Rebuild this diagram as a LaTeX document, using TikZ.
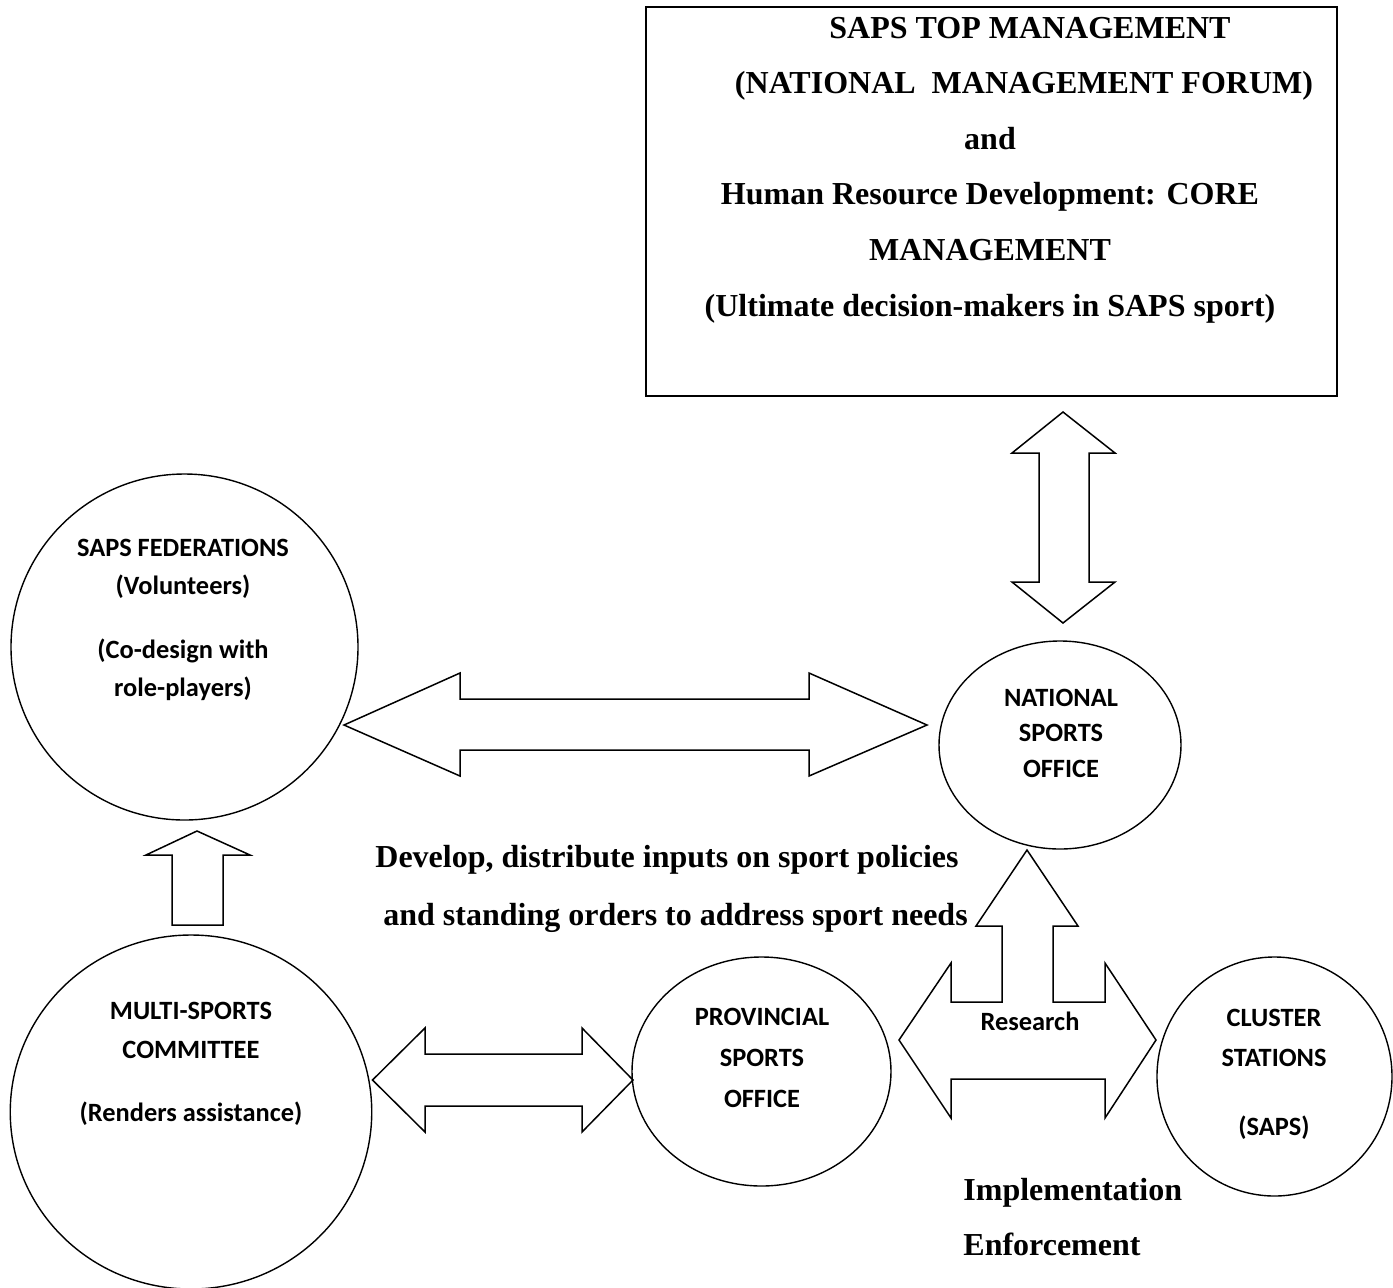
\documentclass[tikz,border=0pt]{standalone}
\usepackage{fontspec}
\setmainfont{Liberation Serif}
\newfontfamily\officefont{Carlito}
\usetikzlibrary{shapes.geometric}
\usetikzlibrary{positioning}

\tikzset{
  office/.style={draw, ellipse, line width=0.7pt, inner sep=0pt},
  officetext/.style={font=\officefont\bfseries\fontsize{13.2}{19.5}\selectfont, align=center, inner sep=0pt},
  bigtext/.style={font=\bfseries\fontsize{16}{27.8}\selectfont, inner sep=0pt},
  blockarrow/.style={draw, line width=0.75pt, line join=miter}
}

\begin{document}
\begin{tikzpicture}[x=0.5pt, y=-0.5pt]
            \useasboundingbox (0,0) rectangle (1393,1287);
            % Top management box
            \node[draw, line width=1pt, minimum width=345.5pt, minimum height=194.5pt, inner sep=0pt] (top) at (991.5,201.5) {};
            \node[bigtext, align=center] (toptext) at (990,170) {\hspace*{40pt}SAPS TOP MANAGEMENT\\\hspace*{34pt}(NATIONAL\ \ MANAGEMENT FORUM)\\and\hspace*{7pt}\\Human Resource Development: CORE\\MANAGEMENT\\(Ultimate decision-makers in SAPS sport)};

            % Offices and committees
            \node[office, minimum width=173.5pt, minimum height=173pt] (fed) at (184.5,647) {};
            \node[officetext, font=\officefont\bfseries\fontsize{13.2}{19}\selectfont] (fedtext) at (183,620) {SAPS FEDERATIONS\\(Volunteers)\\[13pt](Co-design with\\role-players)};
            \node[office, minimum width=180.75pt, minimum height=177pt] (multi) at (191,1112) {};
            \node[officetext] (multitext) at (191,1064) {MULTI-SPORTS\\COMMITTEE\\[12pt](Renders assistance)};
            \node[office, minimum width=121pt, minimum height=104pt] (nat) at (1060,745) {};
            \node[officetext, font=\officefont\bfseries\fontsize{13.2}{17.75}\selectfont] (nattext) at (1061,733) {NATIONAL\\SPORTS\\OFFICE};
            \node[office, minimum width=129.5pt, minimum height=114.5pt] (prov) at (761.5,1071.5) {};
            \node[officetext, font=\officefont\bfseries\fontsize{13.2}{20.5}\selectfont] (provtext) at (762,1058) {PROVINCIAL\\SPORTS\\OFFICE};
            \node[office, minimum width=117.5pt, minimum height=119.5pt] (clus) at (1274.5,1076.5) {};
            \node[officetext, font=\officefont\bfseries\fontsize{13.2}{20}\selectfont] (clustext) at (1274,1074) {CLUSTER\\STATIONS\\[14.5pt](SAPS)};

            % Block arrows
            \draw[blockarrow] (1063,412) -- (1115,453) -- (1089,453) -- (1089,582) -- (1115,582) -- (1063,623)
                -- (1012,582) -- (1039,582) -- (1039,453) -- (1012,453) -- cycle;
            \draw[blockarrow] (344,725) -- (460,673) -- (460,699) -- (809,699) -- (809,673) -- (927,725)
                -- (809,776) -- (809,750) -- (460,750) -- (460,776) -- cycle;
            \draw[blockarrow] (197,831) -- (250,855) -- (223,855) -- (223,925) -- (172,925) -- (172,855) -- (146,855) -- cycle;
            \draw[blockarrow] (372.5,1080) -- (425,1028) -- (425,1054) -- (582,1054) -- (582,1028) -- (633,1080)
                -- (582,1132) -- (582,1106) -- (425,1106) -- (425,1132) -- cycle;
            \draw[blockarrow] (899,1040) -- (951,963) -- (951,1002) -- (1002,1002) -- (1002,926) -- (976,926) -- (1027,850)
                -- (1078,926) -- (1053,926) -- (1053,1002) -- (1105,1002) -- (1105,963) -- (1156,1040)
                -- (1105,1118) -- (1105,1079) -- (951,1079) -- (951,1118) -- cycle;
            \node[officetext] (research) at (1030,1021) {Research};

            % Free texts
            \node[bigtext, align=left, anchor=west, font=\bfseries\fontsize{16}{29}\selectfont] (develop) at (375,889) {Develop, distribute inputs on sport policies\\\hspace*{4pt}and standing orders to address sport needs};
            \node[bigtext, align=left, anchor=west, font=\bfseries\fontsize{16}{27.5}\selectfont] (impl) at (963,1217) {Implementation\\Enforcement};
        \end{tikzpicture}
\end{document}
